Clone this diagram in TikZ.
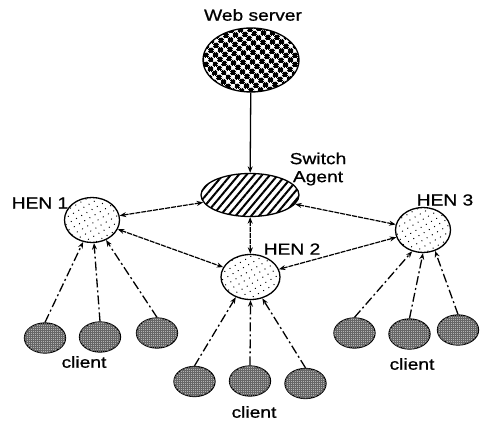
\documentclass[tikz,border=0pt]{standalone}
\usepackage{fontspec}
\setmainfont{Liberation Sans}[FakeStretch=1.2,FakeBold=0.8]
\usetikzlibrary{arrows.meta,patterns.meta,shapes.geometric}

\tikzset{
  lbl/.style={font=\fontsize{16}{18}\selectfont, inner sep=0pt, align=center},
  oval/.style={ellipse, draw, line width=1.3pt, inner sep=0pt},
  server/.style={oval, fill=white,
    postaction={pattern={Hatch[angle=45,distance=6.4pt,line width=3.2pt]}}},
  agent/.style={oval, fill=white,
    postaction={pattern={Lines[angle=50,distance=6pt,line width=2pt]}}},
  hen/.style={oval, fill=white, minimum width=55pt, minimum height=45pt,
    postaction={pattern={Dots[distance=6pt,radius=0.7pt,angle=30]}}},
  client/.style={oval, minimum width=41pt, minimum height=30pt, fill=black!30,
    postaction={pattern={Hatch[angle=0,distance=2pt,line width=0.45pt]}, pattern color=black!60}},
  tip/.tip={Stealth[length=6.5pt,width=5pt]},
  link/.style={tip-tip, line width=1.2pt, dash pattern=on 5pt off 1pt},
  feed/.style={-tip, line width=1.3pt, dash pattern=on 9pt off 3pt on 2pt off 3pt},
  down/.style={-tip, line width=1.3pt}
}

\begin{document}
\begin{tikzpicture}[x=1pt,y=-1pt]
\useasboundingbox (0,0) rectangle (484,422);

% main nodes
\node[server, minimum width=96pt, minimum height=64pt] (web) at (251,60) {};
\node[agent, minimum width=98pt, minimum height=43pt] (sw) at (250,195) {};
\node[hen] (hen1) at (92,220) {};
\node[hen, minimum width=59pt] (hen2) at (250.5,277) {};
\node[hen] (hen3) at (423,230) {};

% clients
\node[client] (c11) at (45,338) {};
\node[client] (c12) at (100,337) {};
\node[client] (c13) at (157,333) {};
\node[client] (c21) at (194.5,381.5) {};
\node[client] (c22) at (250,381) {};
\node[client] (c23) at (305.5,383.5) {};
\node[client] (c31) at (354.5,333) {};
\node[client] (c32) at (409.5,334) {};
\node[client] (c33) at (458,330) {};

% labels
\node[lbl] (tweb) at (253,15) {Web server};
\node[lbl] (tsw) at (318,169) {Switch\\Agent};
\node[lbl] (th1) at (40,203) {HEN 1};
\node[lbl] (th2) at (292,249) {HEN 2};
\node[lbl] (th3) at (445,200) {HEN 3};
\node[lbl] (tc1) at (84,362) {client};
\node[lbl] (tc2) at (254,412) {client};
\node[lbl] (tc3) at (412,364) {client};

% connectors
\draw[down] (web) -- (sw);
\draw[link] (hen1) -- (sw);
\draw[link] (sw) -- (hen2);
\draw[link] (sw) -- (hen3);
\draw[link] (hen1) -- (hen2);
\draw[link] (hen2) -- (hen3);

\draw[feed] (c11.north) -- (hen1.-112);
\draw[feed] (c12.north) -- (hen1.-85);
\draw[feed] (c13.north) -- (hen1.-55);
\draw[feed] (c21.north) -- (hen2.-126);
\draw[feed] (c22.north) -- (hen2.-90);
\draw[feed] (c23.north) -- (hen2.-61);
\draw[feed] (c31.north) -- (hen3.-117);
\draw[feed] (c32.north) -- (hen3.-90);
\draw[feed] (c33.north) -- (hen3.-60);
\end{tikzpicture}
\end{document}
